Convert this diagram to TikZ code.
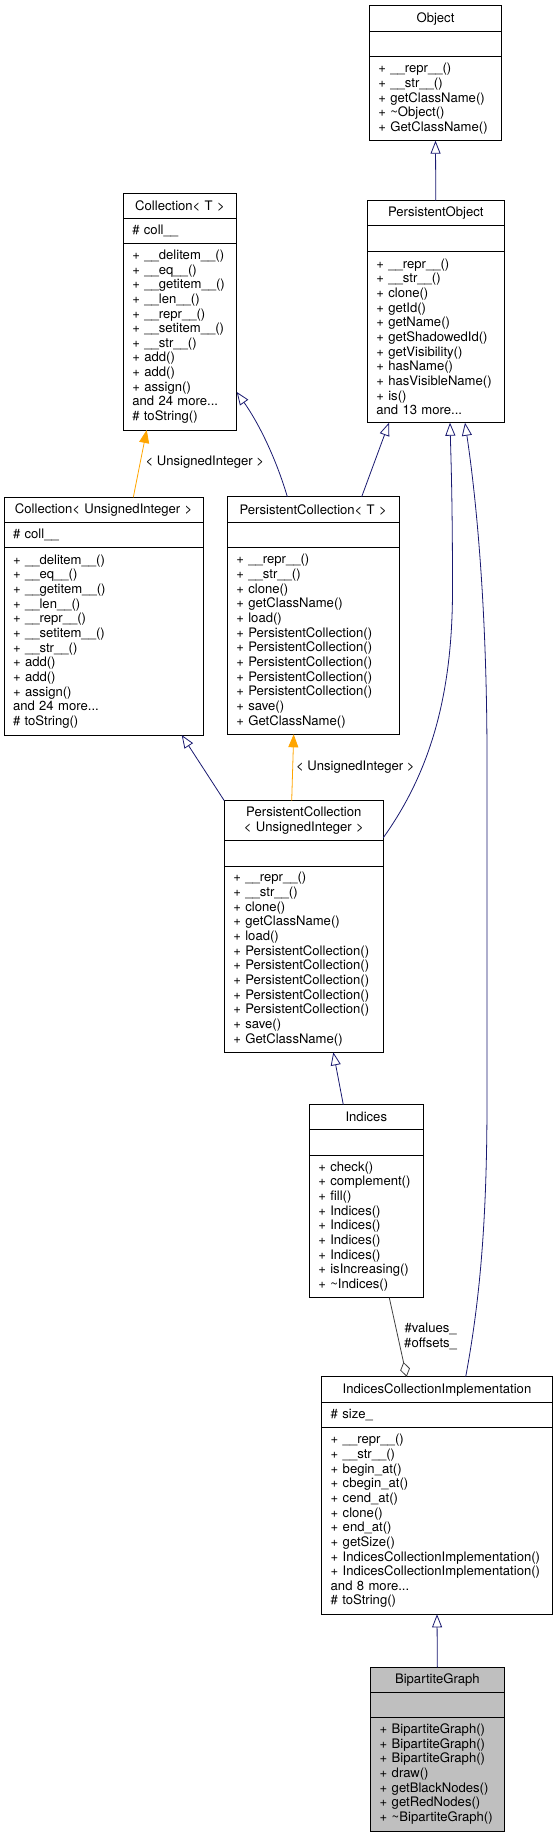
\documentclass[tikz,border=0pt]{standalone}
\usepackage{fontspec}
\setmainfont{TeX Gyre Heros}
\usetikzlibrary{positioning,arrows.meta}
\definecolor{edgeblue}{RGB}{25,25,112}
\definecolor{tplorange}{RGB}{255,165,0}
\definecolor{agggray}{RGB}{64,64,64}
\definecolor{curgray}{RGB}{191,191,191}

\begin{document}
\begin{tikzpicture}[x=1pt, y=-1pt,
  font=\fontsize{13.1}{14.66}\selectfont,
  hdr/.style={draw, line width=0.9pt, outer sep=0pt, anchor=north west, inner xsep=9pt, inner ysep=0pt, align=center, minimum height=25pt},
  cmp/.style={hdr, align=left},
  inh/.style={draw=edgeblue, line width=0.8pt, -{Triangle[open, length=13pt, width=10pt]}},
  tpl/.style={draw=tplorange, line width=0.8pt, -{Triangle[length=13pt, width=10pt]}},
  agg/.style={draw=agggray, line width=0.8pt, -{Diamond[open, length=15pt, width=10pt]}},
  lbl/.style={anchor=west, inner sep=0pt, align=center}]
\useasboundingbox (0,0) rectangle (557,1837);

% Object
\node[hdr, text width=114.4pt, minimum height=26pt] (obj) at (369.3,5.7) {Object};
\node[cmp, text width=114.4pt, below=0pt of obj] (objA) {};
\node[cmp, text width=114.4pt, minimum height=84pt, below=0pt of objA] (objM) {+ \_\_repr\_\_()\\+ \_\_str\_\_()\\+ getClassName()\\+ \textasciitilde Object()\\+ GetClassName()};

% Collection< T >
\node[hdr, text width=95.4pt] (coll) at (123.3,193.3) {Collection< T >};
\node[cmp, text width=95.4pt, below=0pt of coll] (collA) {\# coll\_\_};
\node[cmp, text width=95.4pt, minimum height=186.7pt, below=0pt of collA] (collM) {+ \_\_delitem\_\_()\\+ \_\_eq\_\_()\\+ \_\_getitem\_\_()\\+ \_\_len\_\_()\\+ \_\_repr\_\_()\\+ \_\_setitem\_\_()\\+ \_\_str\_\_()\\+ add()\\+ add()\\+ assign()\\and 24 more...\\\# toString()};

% PersistentObject
\node[hdr, text width=119pt] (pobj) at (367.3,200.7) {PersistentObject};
\node[cmp, text width=119pt, minimum height=25.3pt, below=0pt of pobj] (pobjA) {};
\node[cmp, text width=119pt, minimum height=171.7pt, below=0pt of pobjA] (pobjM) {+ \_\_repr\_\_()\\+ \_\_str\_\_()\\+ clone()\\+ getId()\\+ getName()\\+ getShadowedId()\\+ getVisibility()\\+ hasName()\\+ hasVisibleName()\\+ is()\\and 13 more...};

% Collection< UnsignedInteger >
\node[hdr, text width=181.3pt] (collui) at (4,497.3) {Collection< UnsignedInteger >};
\node[cmp, text width=181.3pt, minimum height=25.4pt, below=0pt of collui] (colluiA) {\# coll\_\_};
\node[cmp, text width=181.3pt, minimum height=187.3pt, below=0pt of colluiA] (colluiM) {+ \_\_delitem\_\_()\\+ \_\_eq\_\_()\\+ \_\_getitem\_\_()\\+ \_\_len\_\_()\\+ \_\_repr\_\_()\\+ \_\_setitem\_\_()\\+ \_\_str\_\_()\\+ add()\\+ add()\\+ assign()\\and 24 more...\\\# toString()};

% PersistentCollection< T >
\node[hdr, text width=153.7pt, minimum height=26pt] (pct) at (227.3,496.7) {PersistentCollection< T >};
\node[cmp, text width=153.7pt, below=0pt of pct] (pctA) {};
\node[cmp, text width=153.7pt, minimum height=186.6pt, below=0pt of pctA] (pctM) {+ \_\_repr\_\_()\\+ \_\_str\_\_()\\+ clone()\\+ getClassName()\\+ load()\\+ PersistentCollection()\\+ PersistentCollection()\\+ PersistentCollection()\\+ PersistentCollection()\\+ PersistentCollection()\\+ save()\\+ GetClassName()};

% PersistentCollection< UnsignedInteger >
\node[hdr, text width=141pt, minimum height=40pt] (pcui) at (224.3,800.7) {PersistentCollection\\< UnsignedInteger >};
\node[cmp, text width=141pt, minimum height=25.3pt, below=0pt of pcui] (pcuiA) {};
\node[cmp, text width=141pt, minimum height=186.3pt, below=0pt of pcuiA] (pcuiM) {+ \_\_repr\_\_()\\+ \_\_str\_\_()\\+ clone()\\+ getClassName()\\+ load()\\+ PersistentCollection()\\+ PersistentCollection()\\+ PersistentCollection()\\+ PersistentCollection()\\+ PersistentCollection()\\+ save()\\+ GetClassName()};

% Indices
\node[hdr, text width=96pt, minimum height=24.6pt] (ind) at (309.3,1104.7) {Indices};
\node[cmp, text width=96pt, minimum height=25.7pt, below=0pt of ind] (indA) {};
\node[cmp, text width=96pt, minimum height=142.7pt, below=0pt of indA] (indM) {+ check()\\+ complement()\\+ fill()\\+ Indices()\\+ Indices()\\+ Indices()\\+ Indices()\\+ isIncreasing()\\+ \textasciitilde Indices()};

% IndicesCollectionImplementation
\node[hdr, text width=212.6pt, minimum height=26pt] (ici) at (321.7,1376.7) {IndicesCollectionImplementation};
\node[cmp, text width=212.6pt, below=0pt of ici] (iciA) {\# size\_};
\node[cmp, text width=212.6pt, minimum height=186.6pt, below=0pt of iciA] (iciM) {+ \_\_repr\_\_()\\+ \_\_str\_\_()\\+ begin\_at()\\+ cbegin\_at()\\+ cend\_at()\\+ clone()\\+ end\_at()\\+ getSize()\\+ IndicesCollectionImplementation()\\+ IndicesCollectionImplementation()\\and 8 more...\\\# toString()};

% BipartiteGraph
\node[hdr, fill=curgray, text width=115.3pt] (bg) at (370.7,1667.3) {BipartiteGraph};
\node[cmp, fill=curgray, text width=115.3pt, below=0pt of bg] (bgA) {};
\node[cmp, fill=curgray, text width=115.3pt, minimum height=113.7pt, below=0pt of bgA] (bgM) {+ BipartiteGraph()\\+ BipartiteGraph()\\+ BipartiteGraph()\\+ draw()\\+ getBlackNodes()\\+ getRedNodes()\\+ \textasciitilde BipartiteGraph()};

% inheritance
\draw[inh] (pobj.north) -- (objM.south);
\draw[inh] ([xshift=60pt]pct.north west) .. controls (278,465) and (262,428) .. ([yshift=-55.3pt]collM.east);
\draw[inh] ([xshift=134.4pt]pct.north west) -- ([xshift=21.7pt]pobjM.south west);
\draw[inh] (pcui.north west) -- ([xshift=177.7pt]colluiM.south west);
\draw[inh] ([yshift=-17pt]pcui.east) .. controls (428,775) and (452.5,700) .. (452.5,590) .. controls (452.5,500) and (451,460) .. ([xshift=82.7pt]pobjM.south west);
\draw[inh] ([xshift=34pt]ind.north west) -- ([xshift=109pt]pcuiM.south west);
\draw[inh] ([xshift=144pt]ici.north west) .. controls (480,1300) and (487,1220) .. (487,1100) -- (487,760) .. controls (487,580) and (472,470) .. ([xshift=97.7pt]pobjM.south west);
\draw[inh] (bg.north) -- (iciM.south);

% template instances
\draw[tpl] ([xshift=129.3pt]collui.north west) -- ([xshift=23.4pt]collM.south west) node[lbl, pos=0.52, xshift=5pt] {< UnsignedInteger >};
\draw[tpl] ([xshift=67.4pt]pcui.north west) -- ([xshift=66.4pt]pctM.south west) node[lbl, pos=0.51, xshift=3pt] {< UnsignedInteger >};

% usage
\draw[agg] ([xshift=80pt]indM.south west) -- ([xshift=85pt]ici.north west) node[lbl, pos=0.49, xshift=6pt] {\#values\_\\\#offsets\_};
\end{tikzpicture}
\end{document}
